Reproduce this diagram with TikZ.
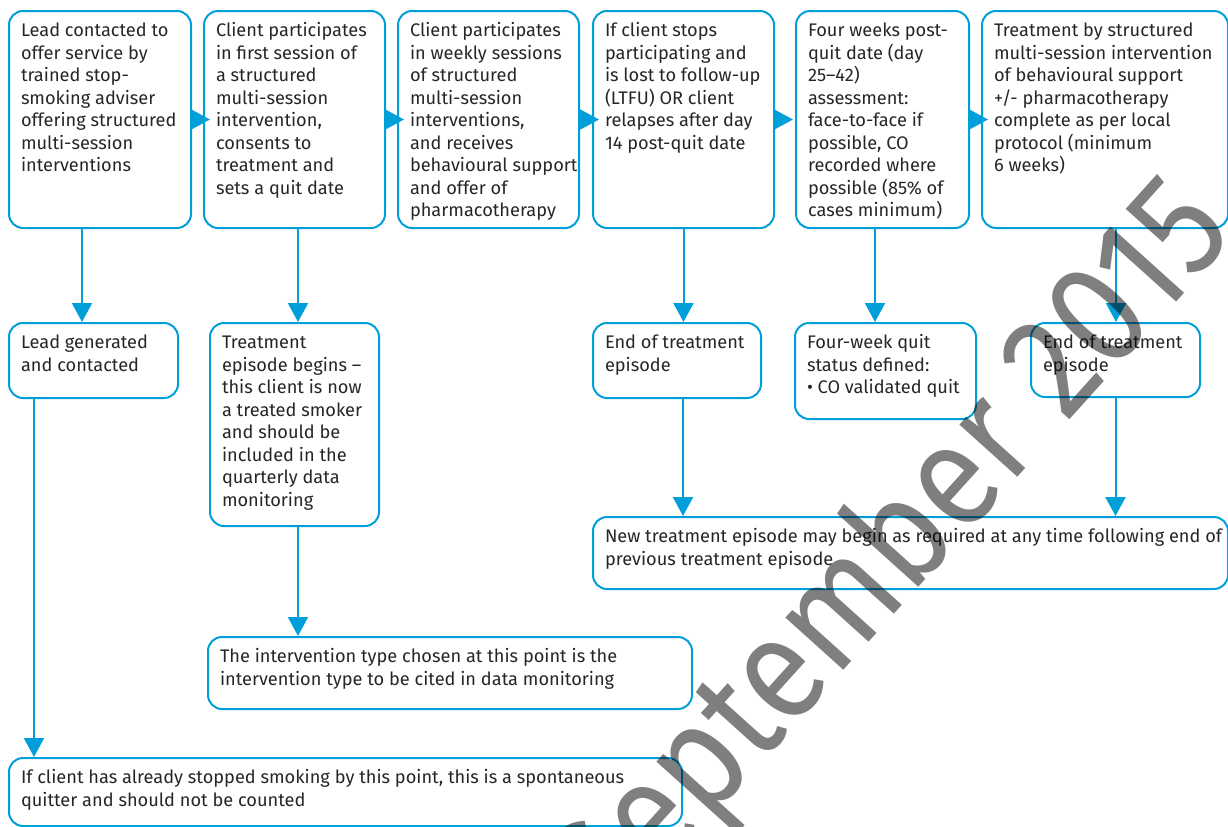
\documentclass[tikz,border=0pt]{standalone}
\usepackage{fontspec}
\setmainfont{Fira Sans}
\usepackage{tikz}
\usetikzlibrary{arrows.meta}
\definecolor{flowblue}{RGB}{0,159,218}
\newcommand{\boxtext}[3]{\parbox[t][#2][t]{#1}{\begin{tabular}[t]{@{}l@{}}#3\end{tabular}}}

\begin{document}
\begin{tikzpicture}[x=0.5pt, y=-0.5pt,
    flow/.style={draw=flowblue, line width=1pt, rounded corners=7pt, inner xsep=6pt, inner ysep=5pt, anchor=north west, text=black!85, font=\fontsize{9.1}{11.25}\selectfont},
    link/.style={draw=flowblue, line width=1pt, -{Triangle[length=9.5pt,width=10pt]}},
    across/.style={link, shorten >=-3.5pt}]
    \useasboundingbox (0,0) rectangle (1228,826);
    \node[flow] (contact) at (8,10) {\boxtext{79pt}{98.5pt}{Lead contacted to\\offer service by\\trained stop-\\smoking adviser\\offering structured\\multi-session\\interventions}};
    \node[flow] (first) at (203,10) {\boxtext{78.5pt}{98.5pt}{Client participates\\in first session of\\a structured\\multi-session\\intervention,\\consents to\\treatment and\\sets a quit date}};
    \node[flow] (weekly) at (397,10) {\boxtext{78.5pt}{98.5pt}{Client participates\\in weekly sessions\\of structured\\multi-session\\interventions,\\and receives\\behavioural support\\and offer of\\pharmacotherapy}};
    \node[flow] (ltfu) at (592,10) {\boxtext{78.5pt}{98.5pt}{If client stops\\participating and\\is lost to follow-up\\(LTFU) OR client\\relapses after day\\14 post-quit date}};
    \node[flow] (fourwk) at (795,10) {\boxtext{74.5pt}{98.5pt}{Four weeks post-\\quit date (day\\25--42)\\assessment:\\face-to-face if\\possible, CO\\recorded where\\possible (85\% of\\cases minimum)}};
    \node[flow] (complete) at (981,10) {\boxtext{111pt}{98.5pt}{Treatment by structured\\multi-session intervention\\of behavioural support\\+/- pharmacotherapy\\complete as per local\\protocol (minimum\\6 weeks)}};
    \node[flow] (lead) at (8,322) {\boxtext{72.5pt}{27.5pt}{Lead generated\\and contacted}};
    \node[flow] (begin) at (209,322) {\boxtext{72.5pt}{91.5pt}{Treatment\\episode begins --\\this client is now\\a treated smoker\\and should be\\included in the\\quarterly data\\monitoring}};
    \node[flow] (end1) at (592,322) {\boxtext{72pt}{27.5pt}{End of treatment\\episode}};
    \node[flow] (quit) at (794,322) {\boxtext{78.5pt}{38pt}{Four-week quit\\status defined:\\\textbullet{} CO validated quit}};
    \node[flow] (end2) at (1030,322) {\boxtext{72.5pt}{27pt}{End of treatment\\episode}};
    \node[flow] (newep) at (592,516) {\boxtext{305.5pt}{26pt}{New treatment episode may begin as required at any time following end of\\previous treatment episode}};
    \node[flow] (itype) at (207,636) {\boxtext{230pt}{26pt}{The intervention type chosen at this point is the\\intervention type to be cited in data monitoring}};
    \node[flow] (spont) at (8,757) {\boxtext{324.5pt}{24pt}{If client has already stopped smoking by this point, this is a spontaneous\\quitter and should not be counted}};
    \draw [across] (contact) -- (first);
    \draw [across] (first) -- (weekly);
    \draw [across] (weekly) -- (ltfu);
    \draw [across, shorten >=1pt] (ltfu) -- (fourwk);
    \draw [across] (fourwk) -- (complete);
    \draw [link] ([xshift=-9pt]contact.south) -- ([xshift=-9pt]contact.south |- lead.north);
    \draw [link] ([xshift=-29.75pt]lead.south) -- ([xshift=-29.75pt]lead.south |- spont.north);
    \draw [link] ([xshift=1.75pt]first.south) -- ([xshift=1.75pt]first.south |- begin.north);
    \draw [link] ([xshift=1.75pt]begin.south) -- ([xshift=1.75pt]begin.south |- itype.north);
    \draw [link] (ltfu.south) -- (ltfu.south |- end1.north);
    \draw [link] ([xshift=3pt]end1.south) -- ([xshift=3pt]end1.south |- newep.north);
    \draw [link] ([xshift=-3.75pt]fourwk.south) -- ([xshift=-3.75pt]fourwk.south |- quit.north);
    \draw [link] ([xshift=5.5pt]complete.south) -- ([xshift=5.5pt]complete.south |- end2.north);
    \draw [link] (end2.south) -- (end2.south |- newep.north);
    \node[rotate=48, xscale=0.88, text=black, text opacity=0.5, font=\fontsize{74}{74}\selectfont] (stamp) at (895,555) {September 2015};
\end{tikzpicture}
\end{document}
